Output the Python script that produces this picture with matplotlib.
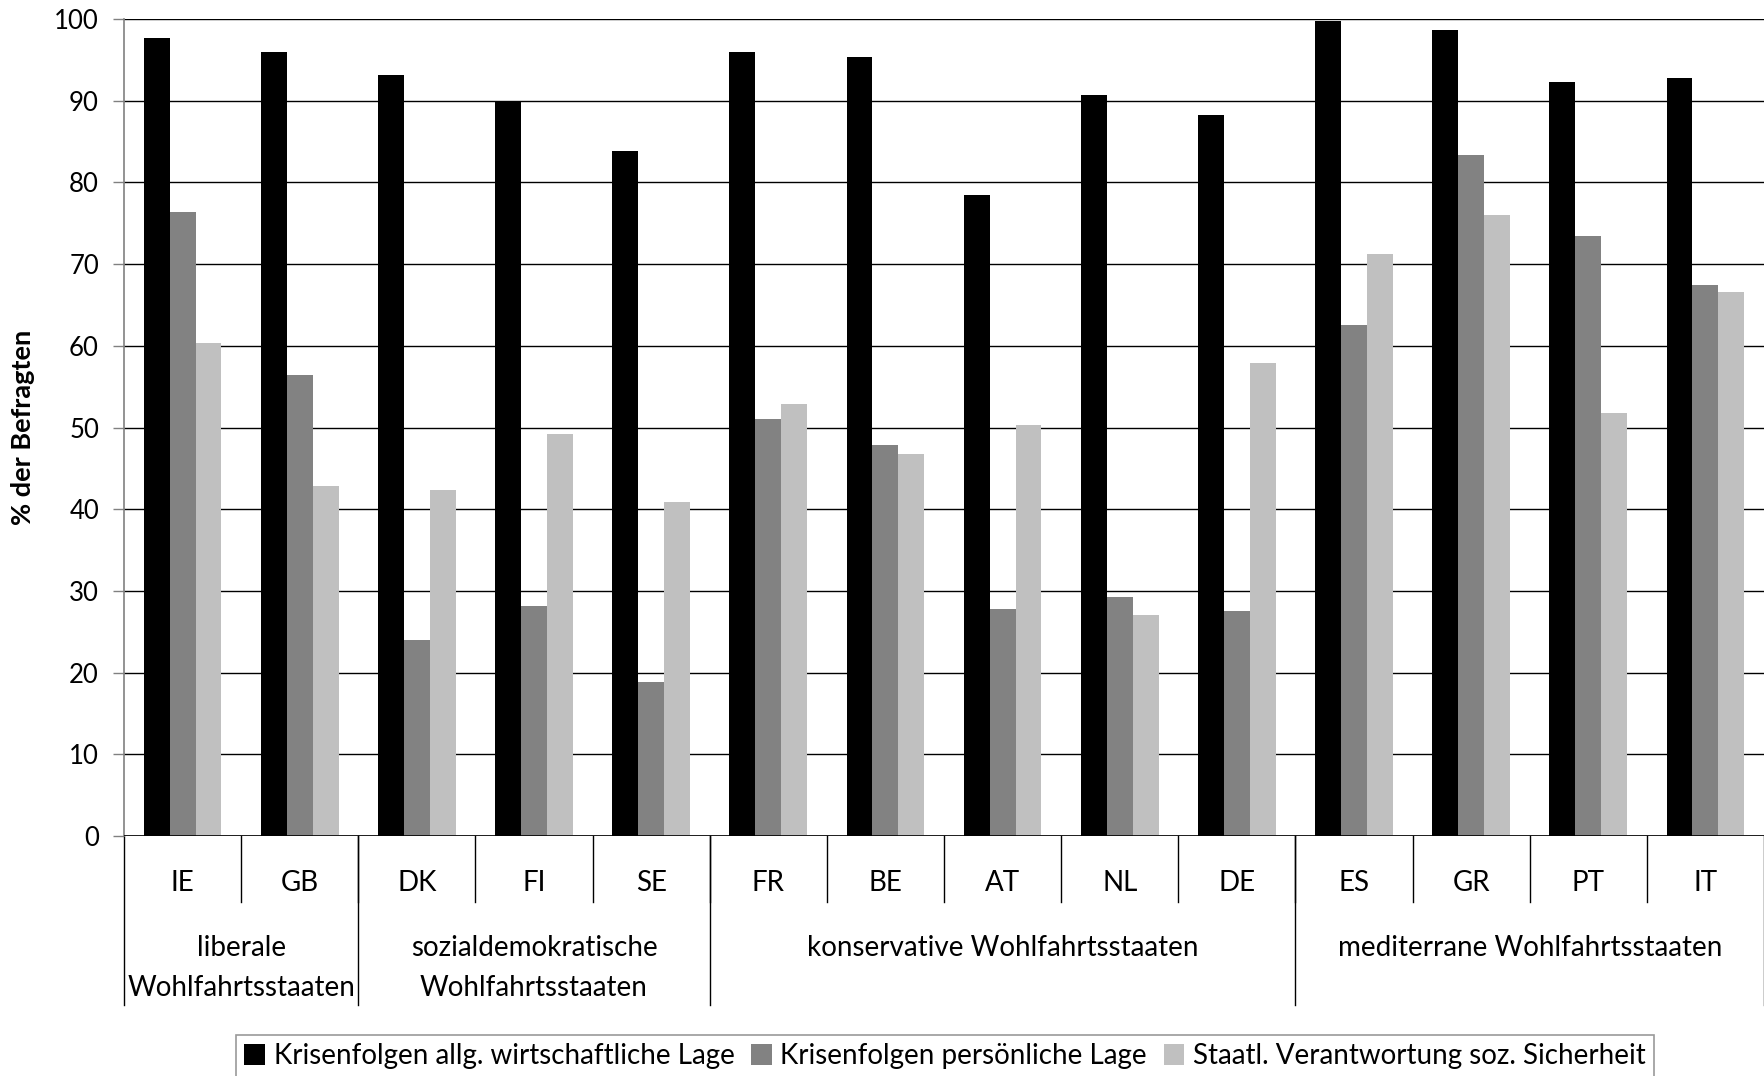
import matplotlib
matplotlib.use("Agg")
import matplotlib.pyplot as plt
from matplotlib.patches import Patch
import numpy as np

plt.rcParams['font.family'] = ['Lato', 'DejaVu Sans']

countries = ["IE", "GB", "DK", "FI", "SE", "FR", "BE", "AT", "NL", "DE", "ES", "GR", "PT", "IT"]
groups = ["liberale\nWohlfahrtsstaaten", "sozialdemokratische\nWohlfahrtsstaaten",
          "konservative Wohlfahrtsstaaten", "mediterrane Wohlfahrtsstaaten"]
group_sizes = [2, 3, 5, 4]

allg_lage = [97.7, 96.0, 93.2, 89.8, 83.9, 96.0, 95.4, 78.4, 90.7, 88.2, 99.7, 98.7, 92.3, 92.8]
pers_lage = [76.4, 56.4, 24.0, 28.1, 18.9, 51.1, 47.9, 27.8, 29.3, 27.5, 62.6, 83.4, 73.5, 67.4]
staat_verantw = [60.4, 42.9, 42.4, 49.2, 40.9, 52.9, 46.8, 50.3, 27.1, 57.9, 71.2, 76.0, 51.8, 66.6]

series_names = ["Krisenfolgen allg. wirtschaftliche Lage",
                "Krisenfolgen persönliche Lage",
                "Staatl. Verantwortung soz. Sicherheit"]
series_colors = ["#000000", "#828282", "#c0c0c0"]

W, H = 1764, 1076
fig = plt.figure(figsize=(W / 100, H / 100), dpi=100)
ax_top, ax_bot, ax_left = 19, 836, 124
ax = fig.add_axes([ax_left / W, 1 - ax_bot / H, 1 - ax_left / W, (ax_bot - ax_top) / H])

x = np.arange(len(countries))
bw = 0.221
for k, (vals, col) in enumerate(zip([allg_lage, pers_lage, staat_verantw], series_colors)):
    ax.bar(x + (k - 1) * bw, vals, width=bw, color=col, zorder=3)

ax.set_xlim(-0.5, len(countries) - 0.5)
ax.set_ylim(0, 100)
ax.set_yticks(np.arange(0, 101, 10))
ax.yaxis.grid(True, color="#000000", linewidth=1.0, zorder=0)
ax.tick_params(axis='y', length=8, width=1, color="#808080", labelsize=18.5, pad=10)
ax.set_xticks([])
for s in ["top", "right", "bottom"]:
    ax.spines[s].set_visible(False)
ax.spines["left"].set_color("#808080")
ax.spines["left"].set_linewidth(1.2)
ax.axhline(0, color="#000000", linewidth=1.2, zorder=4)
fig.text(23 / W, 1 - (ax_top + ax_bot) / 2 / H, "% der Befragten", rotation=90,
         ha="center", va="center", fontsize=19.5, fontweight="bold")

# two-level category axis drawn below the plotting area
tr = ax.get_xaxis_transform()
ax_h = ax_bot - ax_top
def below(px):
    return -(px - ax_bot) / ax_h

for i in range(1, len(countries)):
    ax.plot([i - 0.5, i - 0.5], [0, below(902)], transform=tr, color="#000000",
            linewidth=1.0, clip_on=False)
for i, c in enumerate(countries):
    ax.text(i, below(883), c, transform=tr, ha="center", va="center", fontsize=20)

bounds = np.concatenate([[0], np.cumsum(group_sizes)])
for b in bounds:
    ax.plot([b - 0.5, b - 0.5], [0, below(1005)], transform=tr, color="#000000",
            linewidth=1.0, clip_on=False)
for g, lo, hi in zip(groups, bounds[:-1], bounds[1:]):
    cx = (lo + hi - 1) / 2
    ypix = 968 if "\n" in g else 948
    ax.text(cx, below(ypix), g, transform=tr, ha="center", va="center", fontsize=20,
            linespacing=1.65)

handles = [Patch(facecolor=c, edgecolor="none") for c in series_colors]
leg = fig.legend(handles, series_names, loc="upper left",
                 bbox_to_anchor=(236 / W, 1 - 1035 / H), ncol=3, fontsize=20,
                 frameon=True, fancybox=False, handlelength=0.75, handleheight=0.75,
                 handletextpad=0.3, columnspacing=0.6, borderpad=0.3,
                 borderaxespad=0)
leg.get_frame().set_edgecolor("#808080")
leg.get_frame().set_linewidth(1.2)

fig.savefig("out.png", dpi=100)
